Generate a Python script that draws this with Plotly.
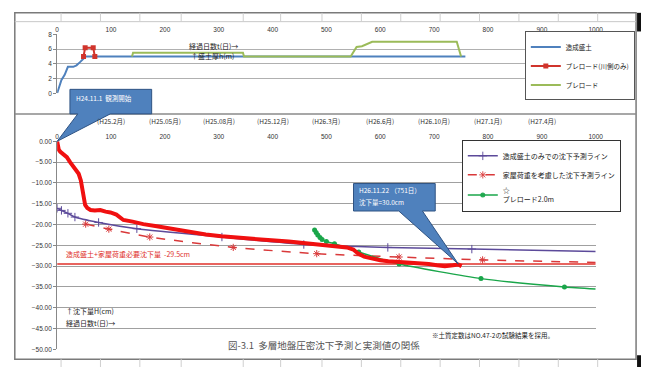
import plotly.graph_objects as go

W, H = 649, 370

# ---------------- data ----------------
# top chart: embankment / preload thickness h (m) vs elapsed days
fill_days = [0, 3, 8, 14, 20, 30, 36, 42, 48, 53, 758]
fill_h = [0, 0.8, 1.8, 2.5, 3.6, 3.6, 3.8, 4.2, 4.6, 5.0, 5.0]

river_days = [49, 52, 67, 70]
river_h = [5.0, 6.2, 6.2, 5.0]

preload_days = [139, 141, 345, 347, 545, 556, 566, 572, 585, 742, 750]
preload_h = [5.0, 5.5, 5.5, 5.0, 5.0, 6.3, 6.4, 6.6, 7.0, 7.0, 5.0]

# bottom chart: settlement (cm) vs elapsed days
meas_days = [0, 1, 3, 6, 10, 13, 18, 24, 28, 32, 36, 40, 44, 46, 48, 50, 52, 56,
             62, 70, 80, 90, 99, 110, 123, 140, 160, 185, 215, 245, 276, 305, 337,
             370, 398, 430, 459, 485, 507, 525, 538, 550, 559, 570, 586, 600, 615,
             629, 650, 670, 690, 705, 720, 735, 745, 751]
meas_cm = [0, -1.0, -2.0, -2.5, -2.9, -3.1, -3.8, -5.0, -5.8, -6.3, -7.0, -7.8,
           -9.4, -11.0, -12.5, -13.5, -15.3, -16.0, -16.5, -16.6, -16.5, -16.9,
           -17.1, -17.6, -18.9, -19.3, -19.9, -20.4, -21.1, -21.8, -22.4, -22.8,
           -23.2, -23.5, -23.8, -24.1, -24.5, -24.8, -25.1, -25.3, -25.5, -26.0,
           -27.0, -27.7, -28.3, -28.6, -28.8, -28.9, -29.1, -29.3, -29.5, -29.8,
           -30.0, -29.8, -29.6, -30.0]

fillonly_days = [0, 8, 20, 33, 77, 148, 306, 458, 614, 770, 1000]
fillonly_cm = [-16.1, -16.6, -17.3, -18.2, -19.5, -21.0, -23.0, -24.8, -25.5, -25.9, -26.5]

house_days = [53, 96, 172, 327, 482, 635, 790, 1000]
house_cm = [-19.9, -21.1, -23.0, -25.5, -27.0, -27.8, -28.5, -29.1]

pre2_days = [478, 481, 484, 488, 492, 500, 515, 560, 635, 787, 942, 1000]
pre2_cm = [-21.3, -21.9, -22.5, -23.1, -23.6, -24.1, -24.6, -26.6, -29.5, -33.0, -35.0, -35.5]

required_cm = -29.5
x_ticks = list(range(0, 1001, 100))
date_days = [100, 200, 300, 400, 500, 600, 700, 800, 900]
date_labels = ["(H25.2月)", "(H25.05月)", "(H25.08月)", "(H25.12月)", "(H26.3月)",
               "(H26.6月)", "(H26.10月)", "(H27.1月)", "(H27.4月)"]
end_day, end_cm = 745, -29.5

# ---------------- layout helpers ----------------
def px(x):
    return x / W

def py(y):
    return 1 - y / H

X_DOM = [px(56), px(603)]
Y1_DOM = [py(91), py(31)]
Y2_DOM = [py(352), py(140)]

def b2paper(d, v):
    xp = X_DOM[0] + d / 1000 * (X_DOM[1] - X_DOM[0])
    yp = Y2_DOM[0] + (v + 50) / 50 * (Y2_DOM[1] - Y2_DOM[0])
    return xp, yp

FONT = "Noto Sans CJK JP, Noto Sans, sans-serif"
NUMF = "Liberation Sans, Arial, sans-serif"

fig = go.Figure()

# top chart traces
fig.add_trace(go.Scatter(x=fill_days, y=fill_h, mode="lines", name="造成盛土",
                         line=dict(color="#4f81bd", width=2), xaxis="x", yaxis="y",
                         legend="legend"))
fig.add_trace(go.Scatter(x=river_days, y=river_h, mode="lines+markers",
                         name="プレロード(川側のみ)",
                         line=dict(color="#d0342c", width=2),
                         marker=dict(symbol="square", size=5, color="#d0342c"),
                         xaxis="x", yaxis="y", legend="legend"))
fig.add_trace(go.Scatter(x=preload_days, y=preload_h, mode="lines", name="プレロード",
                         line=dict(color="#9bbb59", width=2), xaxis="x", yaxis="y",
                         legend="legend"))

# bottom chart traces
fig.add_trace(go.Scatter(x=[0, 1000], y=[required_cm, required_cm], mode="lines",
                         line=dict(color="#e0302a", width=1.5), showlegend=False,
                         xaxis="x2", yaxis="y2"))
fig.add_trace(go.Scatter(x=fillonly_days, y=fillonly_cm, mode="lines+markers",
                         name="造成盛土のみでの沈下予測ライン",
                         line=dict(color="#5c4a9a", width=1.5, shape="spline", smoothing=0.6),
                         marker=dict(symbol="cross-thin-open", size=6,
                                     line=dict(color="#5c4a9a", width=1),
                                     opacity=[1] * (len(fillonly_days) - 1) + [0]),
                         xaxis="x2", yaxis="y2", legend="legend2"))
fig.add_trace(go.Scatter(x=house_days, y=house_cm, mode="lines+markers",
                         name="家屋荷重を考慮した沈下予測ライン",
                         line=dict(color="#d9393a", width=1.5, dash="dash",
                                   shape="spline", smoothing=0.6),
                         marker=dict(symbol="asterisk-open", size=6,
                                     line=dict(color="#4bacc6", width=1),
                                     opacity=[1] * (len(house_days) - 1) + [0]),
                         xaxis="x2", yaxis="y2", legend="legend2"))
fig.add_trace(go.Scatter(x=pre2_days, y=pre2_cm, mode="lines+markers",
                         name="☆<br>プレロード2.0m",
                         line=dict(color="#1aa64a", width=1.5, shape="spline", smoothing=0.5),
                         marker=dict(symbol="circle", size=5, color="#1aa64a",
                                     opacity=[1] * (len(pre2_days) - 1) + [0]),
                         xaxis="x2", yaxis="y2", legend="legend2"))
fig.add_trace(go.Scatter(x=meas_days, y=meas_cm, mode="lines", name="実測値",
                         line=dict(color="#f01010", width=4), showlegend=False,
                         xaxis="x2", yaxis="y2"))

axis_common = dict(tickfont=dict(family=NUMF, size=6.5, color="#333"),
                   linecolor="#888", showline=True, zeroline=False)

fig.update_layout(
    width=W, height=H, margin=dict(l=0, r=0, t=0, b=0),
    paper_bgcolor="white", plot_bgcolor="white",
    font=dict(family=FONT, size=7, color="#222"),
    xaxis=dict(domain=X_DOM, anchor="y", side="top", range=[0, 1000],
               tickvals=x_ticks, showgrid=False, ticks="", showline=False,
               tickfont=dict(family=NUMF, size=6.5, color="#333")),
    yaxis=dict(domain=Y1_DOM, anchor="x", range=[0, 8], dtick=2, showgrid=True,
               gridcolor="#b0b0b0", gridwidth=1, ticks="outside", ticklen=3,
               tickcolor="#888", **axis_common),
    xaxis2=dict(domain=X_DOM, anchor="y2", side="top", range=[0, 1000],
                tickvals=x_ticks, showgrid=False, ticks="", showline=False,
                tickfont=dict(family=NUMF, size=6.5, color="#333")),
    yaxis2=dict(domain=Y2_DOM, anchor="x2", range=[-50, 0], dtick=5, tickformat=".2f",
                showgrid=True, gridcolor="#a0a0a0", gridwidth=1, ticks="outside",
                ticklen=3, tickcolor="#888", **axis_common),
    legend=dict(x=px(531), y=py(28), xanchor="left", yanchor="top",
                bgcolor="white", bordercolor="#555", borderwidth=1,
                font=dict(family=FONT, size=6.5, color="#222"), itemwidth=30,
                tracegroupgap=0),
    legend2=dict(x=px(467), y=py(139), xanchor="left", yanchor="top",
                 bgcolor="white", bordercolor="#333", borderwidth=1,
                 font=dict(family=FONT, size=7, color="#222"), itemwidth=30,
                 tracegroupgap=0),
)

shapes = []
# spreadsheet frame
shapes.append(dict(type="rect", xref="paper", yref="paper", x0=px(13), x1=px(644),
                   y0=py(362), y1=py(9), line=dict(color="#7a7a7a", width=1.5)))
shapes.append(dict(type="line", xref="paper", yref="paper", x0=px(13), x1=px(644),
                   y0=py(18), y1=py(18), line=dict(color="#c8c8c8", width=1)))
shapes.append(dict(type="line", xref="paper", yref="paper", x0=px(13), x1=px(644),
                   y0=py(112), y1=py(112), line=dict(color="#8a8a8a", width=1.5)))
for cx in [60, 100, 140, 182, 245, 283, 325, 365, 405, 445, 485, 525, 565, 605]:
    shapes.append(dict(type="line", xref="paper", yref="paper", x0=px(cx), x1=px(cx),
                       y0=py(9), y1=py(18), line=dict(color="#cfcfcf", width=1)))
    shapes.append(dict(type="line", xref="paper", yref="paper", x0=px(cx), x1=px(cx),
                       y0=py(362), y1=py(370), line=dict(color="#cfcfcf", width=1)))
shapes.append(dict(type="rect", xref="paper", yref="paper", x0=px(645), x1=px(649),
                   y0=py(28), y1=py(9), line=dict(width=0), fillcolor="#111"))
shapes.append(dict(type="rect", xref="paper", yref="paper", x0=px(645), x1=px(649),
                   y0=py(370), y1=py(358), line=dict(width=0), fillcolor="#111"))

# callouts
def callout(box, base, tip):
    x0, y0, x1, y1 = box
    bl, br = base
    tx, ty = tip
    pts = [(px(x0), py(y0)), (px(x1), py(y0)), (px(x1), py(y1)), (px(br), py(y1)),
           (tx, ty), (px(bl), py(y1)), (px(x0), py(y1))]
    path = "M " + " L ".join(f"{a:.5f},{b:.5f}" for a, b in pts) + " Z"
    return dict(type="path", xref="paper", yref="paper", path=path,
                fillcolor="#4f81bd", line=dict(color="#2f5383", width=1))

shapes.append(callout((69, 87, 152, 112), (77, 110), b2paper(0, 0)))
shapes.append(callout((357, 183, 440, 211), (403, 427), b2paper(end_day, end_cm)))

ann = []
def text(x, y, s, size=7, color="#222", xanchor="left", family=FONT):
    ann.append(dict(x=px(x), y=py(y), xref="paper", yref="paper", text=s,
                    showarrow=False, xanchor=xanchor, yanchor="middle",
                    font=dict(family=family, size=size, color=color)))

text(188, 43, "経過日数t(日)→", size=7)
text(190, 53, "↑盛土厚h(m)", size=7)
text(63, 313, "↑沈下量H(cm)", size=7)
text(63, 325, "経過日数t(日)→", size=7)
text(63, 255, "造成盛土+家屋荷重必要沈下量  -29.5cm", size=7, color="#e0302a")
text(435, 337, "※土質定数はNO.47-2の試験結果を採用。", size=6.5)
text(327, 348, "図-3.1  多層地盤圧密沈下予測と実測値の関係", size=9.5, color="#555",
     xanchor="center")
text(73, 96, "H24.11.1  観測開始", size=6.5, color="white")
text(361, 190, "H26.11.22 （751日）", size=6.5, color="white")
text(361, 202, "沈下量=30.0cm", size=6.5, color="white")

for d, lab in zip(date_days, date_labels):
    ann.append(dict(x=d, y=py(119), xref="x2", yref="paper", text=lab, showarrow=False,
                    xanchor="center", yanchor="middle",
                    font=dict(family=FONT, size=6.5, color="#333")))

fig.update_layout(shapes=shapes, annotations=ann)
fig.write_html("out.html")
